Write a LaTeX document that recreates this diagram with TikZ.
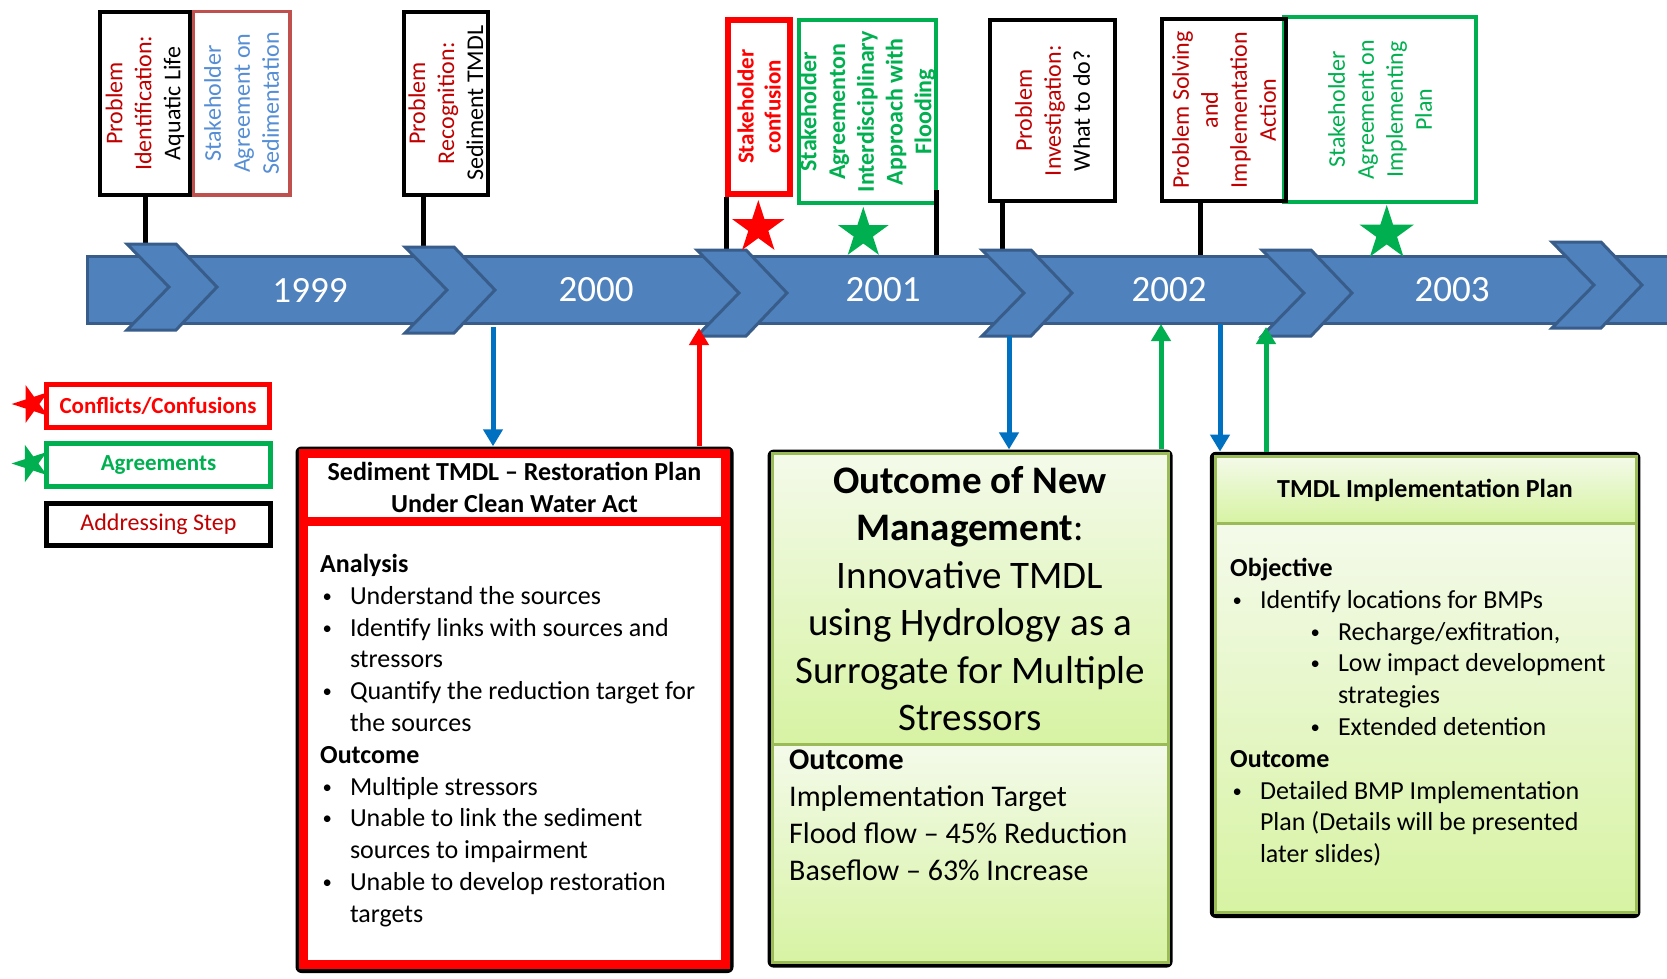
\documentclass[tikz,border=0pt]{standalone}
\usepackage{fontspec}
\setmainfont{Carlito}
\usetikzlibrary{shapes.geometric}
\usetikzlibrary{arrows.meta}

\definecolor{bandblue}{HTML}{4F81BD}
\definecolor{banddark}{HTML}{385D8A}
\definecolor{dred}{HTML}{C00000}
\definecolor{agreen}{HTML}{00B050}
\definecolor{flowblue}{HTML}{0070C0}
\definecolor{softred}{HTML}{C0504D}
\definecolor{softblue}{HTML}{558ED5}
\definecolor{olive}{HTML}{9BBB59}
\definecolor{gtop}{HTML}{F4FAEA}
\definecolor{gbot}{HTML}{D7F3A3}

\newcommand{\bul}[1][0pt]{\hspace*{#1}\makebox[29.8pt][l]{\hspace{2.5pt}\raisebox{2pt}{\scalebox{0.72}{\textbullet}}}}

\begin{document}
\begin{tikzpicture}[x=1pt,y=-1pt,
  stepbox/.style={draw,line width=4pt,inner sep=0pt},
  steptext/.style={rotate=90,align=center,inner sep=0pt,font=\fontsize{24}{29}\selectfont},
  legbox/.style={draw,line width=5pt,fill=white,inner sep=0pt,minimum width=223.4pt,minimum height=43pt},
  chev/.style={fill=bandblue,draw=banddark,line width=3pt},
  yearlbl/.style={text=white,inner sep=0pt,font=\fontsize{37}{44}\selectfont},
  stem/.style={line width=5pt},
  starmark/.style={star,star points=5,star point ratio=2.618,inner sep=0pt},
  shadowbox/.style={fill=black,rounded corners=6pt,inner sep=0pt},
  bodytxt/.style={anchor=north west,align=left,inner sep=0pt,font=\fontsize{26}{31.8}\selectfont},
  titletxt/.style={anchor=north,align=center,inner sep=0pt,font=\bfseries\fontsize{26}{32}\selectfont},
  flow/.style={line width=5pt,-{Triangle[width=19pt,length=17pt]}}]
\fill[white] (0,0) rectangle (1667,979);
\useasboundingbox (0,0) rectangle (1667,979);

% legend
\node[starmark,fill=red,minimum size=40pt,shape border rotate=90] (keyC) at (31.7,404) {};
\node[starmark,fill=agreen,minimum size=39pt,shape border rotate=90] (keyA) at (31,463.5) {};
\node[legbox,draw=red,text=red,font=\bfseries\fontsize{23}{28}\selectfont] (legC) at (158,405.8) {Conflicts/Confusions};
\node[legbox,draw=agreen,text=agreen,font=\bfseries\fontsize{23}{28}\selectfont] (legA) at (158.5,464.8) {Agreements};
\node[legbox,draw=black,text=dred,minimum height=42.6pt,font=\fontsize{24}{29}\selectfont] (legS) at (158.5,524.5) {Addressing Step};

% steps above the timeline
\node[stepbox,minimum width=89.4pt,minimum height=182.7pt] (boxA) at (145,103.3) {};
\node[stepbox,draw=softred,line width=3.5pt,minimum width=96.5pt,minimum height=183.2pt] (boxB) at (241.7,103.3) {};
\node[stepbox,minimum width=84.3pt,minimum height=182.7pt] (boxC) at (445.8,103.3) {};
\node[stepbox,draw=red,line width=6pt,minimum width=62.3pt,minimum height=174pt] (boxD) at (759.2,106.7) {};
\node[stepbox,draw=agreen,minimum width=137.6pt,minimum height=182.7pt] (boxE) at (867.5,111.7) {};
\node[stepbox,minimum width=124.4pt,minimum height=181pt] (boxF) at (1052.5,110.8) {};
\node[stepbox,draw=agreen,minimum width=192.6pt,minimum height=185pt] (boxH) at (1380,109.5) {};
\node[stepbox,minimum width=124.3pt,minimum height=182.6pt] (boxG) at (1224.2,110) {};

\node[steptext] (tA) at (boxA) {\textcolor{dred}{Problem}\\\textcolor{dred}{Identification:}\\Aquatic Life};
\node[steptext,text=softblue] (tB) at (boxB) {Stakeholder\\Agreement on\\Sedimentation};
\node[steptext] (tC) at (boxC) {\textcolor{dred}{Problem}\\\textcolor{dred}{Recognition:}\\Sediment TMDL};
\node[steptext,text=red,font=\bfseries\fontsize{23}{27}\selectfont] (tD) at (boxD) {Stakeholder\\confusion};
\node[steptext,text=agreen,font=\bfseries\fontsize{24}{28.7}\selectfont] (tE) at (boxE) {Stakeholder\\Agreementon\\Interdisciplinary\\Approach with\\Flooding};
\node[steptext] (tF) at (boxF) {\textcolor{dred}{Problem}\\\textcolor{dred}{Investigation:}\\What to do?};
\node[steptext,text=dred] (tG) at (boxG) {Problem Solving\\and\\Implementation\\Action};
\node[steptext,text=agreen] (tH) at (boxH) {Stakeholder\\Agreement on\\Implementing\\Plan};

% stems down to the timeline
\coordinate (sA) at (145.7,270);
\coordinate (sC) at (423.3,270);
\coordinate (sD) at (726,270);
\coordinate (sEtop) at (936.7,190);
\coordinate (sE) at (936.7,270);
\coordinate (sF) at (1002.7,270);
\coordinate (sG) at (1200,270);
\draw[stem] (sA |- boxA.south) -- (sA);
\draw[stem] (sC |- boxC.south) -- (sC);
\draw[stem] (sD |- boxD.south) -- (sD);
\draw[stem] (sEtop) -- (sE);
\draw[stem] (sF |- boxF.south) -- (sF);
\draw[stem] (sG |- boxG.south) -- (sG);

% timeline
\fill[bandblue] (87,256) rectangle (1667,323);
\draw[banddark,line width=3pt] (1667,256) -- (87,256) -- (87,323) -- (1667,323);
\foreach \cx/\cy in {127/287,405/290,697/293,982/293,1262/293,1552/285}
  \draw[chev] (\cx,\cy-43) -- (\cx+49,\cy-43) -- (\cx+90,\cy) -- (\cx+49,\cy+43) -- (\cx,\cy+43) -- (\cx+42,\cy) -- cycle;
\node[yearlbl] (y1999) at (310,290) {1999};
\node[yearlbl] (y2000) at (596,290) {2000};
\node[yearlbl] (y2001) at (883,290) {2001};
\node[yearlbl] (y2002) at (1169,290) {2002};
\node[yearlbl] (y2003) at (1452,290) {2003};

\node[starmark,fill=red,minimum size=55pt] (stD) at (758.3,227.6) {};
\node[starmark,fill=agreen,minimum size=53pt] (stE) at (863.3,233.4) {};
\node[starmark,fill=agreen,minimum size=57pt] (stH) at (1386.7,233.5) {};

% plans below the timeline
\node[shadowbox,minimum width=438pt,minimum height=526.5pt] (planA) at (514.5,709.75) {};
\draw[red,line width=9pt,fill=white] (303.5,453.5) rectangle (725.5,964.5);
\draw[red,line width=9pt] (303.5,521) -- (725.5,521);
\node[titletxt] (hA) at (514.5,462) {Sediment TMDL -- Restoration Plan\\Under Clean Water Act};
\node[bodytxt] (bA) at (320,554) {\textbf{Analysis}\\
\bul Understand the sources\\
\bul Identify links with sources and\\
\hspace*{29.8pt}stressors\\
\bul Quantify the reduction target for\\
\hspace*{29.8pt}the sources\\
\textbf{Outcome}\\
\bul Multiple stressors\\
\bul Unable to link the sediment\\
\hspace*{29.8pt}sources to impairment\\
\bul Unable to develop restoration\\
\hspace*{29.8pt}targets};

\node[shadowbox,minimum width=405pt,minimum height=518pt] (planB) at (970.1,708.6) {};
\fill[top color=gtop,bottom color=gbot] (772,453) rectangle (1168,744);
\fill[top color=gtop,bottom color=gbot] (772,744) rectangle (1168,962);
\draw[olive,line width=3pt] (772,453) rectangle (1168,962);
\draw[olive,line width=3pt] (772,744) -- (1168,744);
\node[anchor=north,align=center,inner sep=0pt,font=\fontsize{39}{47.5}\selectfont] (hB) at (970,466) {\textbf{Outcome of New}\\\textbf{Management}:\\Innovative TMDL\\using Hydrology as a\\Surrogate for Multiple\\Stressors};
\node[bodytxt,font=\fontsize{30}{36.8}\selectfont] (bB) at (789,750) {\textbf{Outcome}\\Implementation Target\\Flood flow -- 45\% Reduction\\Baseflow -- 63\% Increase};

\node[shadowbox,minimum width=430.6pt,minimum height=466.2pt] (planC) at (1425.1,684.9) {};
\fill[top color=gtop,bottom color=gbot] (1215,456) rectangle (1636,523);
\fill[top color=gtop,bottom color=gbot] (1215,523) rectangle (1636,912);
\draw[olive,line width=3pt] (1215,456) rectangle (1636,912);
\draw[olive,line width=3pt] (1215,523) -- (1636,523);
\node[titletxt] (hC) at (1425,479) {TMDL Implementation Plan};
\node[bodytxt] (bC) at (1230,558) {\textbf{Objective}\\
\bul Identify locations for BMPs\\
\bul[78pt]Recharge/exfitration,\\
\bul[78pt]Low impact development\\
\hspace*{107.8pt}strategies\\
\bul[78pt]Extended detention\\
\textbf{Outcome}\\
\bul Detailed BMP Implementation\\
\hspace*{29.8pt}Plan (Details will be presented\\
\hspace*{29.8pt}later slides)};

% links between timeline and plans
\coordinate (dA) at (493,327);
\coordinate (uA) at (699,328);
\coordinate (dB) at (1009,336);
\coordinate (uB) at (1161,324);
\coordinate (dC) at (1220,324);
\coordinate (uC) at (1266,327);
\draw[flow,flowblue] (dA) -- (dA |- planA.north);
\draw[flow,red] (uA |- planA.north) -- (uA);
\draw[flow,flowblue] (dB) -- (dB |- planB.north);
\draw[flow,agreen] (uB |- planB.north) -- (uB);
\draw[flow,flowblue] (dC) -- (dC |- planC.north);
\draw[flow,agreen] (uC |- planC.north) -- (uC);

\end{tikzpicture}
\end{document}
